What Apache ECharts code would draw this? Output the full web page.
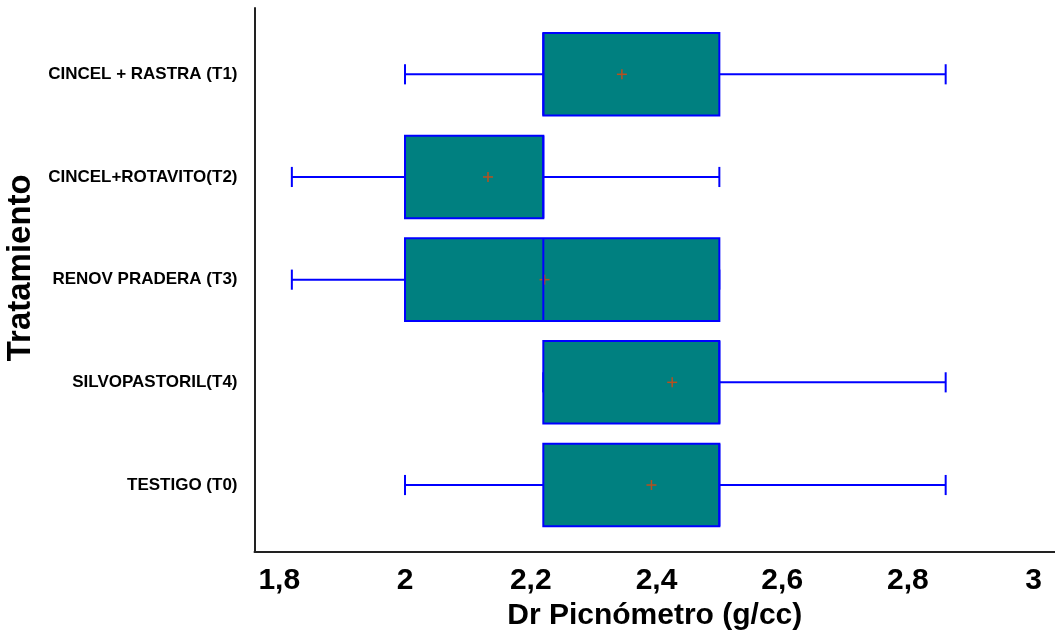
<!DOCTYPE html>
<html>
<head>
<meta charset="utf-8">
<script src="https://cdn.jsdelivr.net/npm/echarts@6/dist/echarts.min.js"></script>
<style>
  html, body { margin: 0; padding: 0; background: #fff; }
  #chart { width: 1055px; height: 635px; }
</style>
</head>
<body>
<div id="chart"></div>
<script>
// Treatments, top to bottom
const categories = [
  'CINCEL + RASTRA (T1)',
  'CINCEL+ROTAVITO(T2)',
  'RENOV PRADERA (T3)',
  'SILVOPASTORIL(T4)',
  'TESTIGO (T0)'
];
// Five-number summary per treatment (g/cc)
const minValues    = [2.00, 1.82, 1.82, 2.22, 2.00];
const q1Values     = [2.22, 2.00, 2.00, 2.22, 2.22];
const medianValues = [2.22, 2.22, 2.22, 2.50, 2.50];
const q3Values     = [2.50, 2.22, 2.50, 2.50, 2.50];
const maxValues    = [2.86, 2.50, 2.50, 2.86, 2.86];
const meanValues   = [2.345, 2.132, 2.222, 2.425, 2.392];

// Value-axis tick positions and their printed labels
const tickValues = [1.8, 2.0, 2.2, 2.4, 2.6, 2.8, 3.0];
const tickLabels = ['1,8', '2', '2,2', '2,4', '2,6', '2,8', '3'];

const SANS = '"Liberation Sans", Arial, sans-serif';

const rows = categories.map((c, i) => [
  i, minValues[i], q1Values[i], medianValues[i], q3Values[i], maxValues[i], meanValues[i]
]);

function renderBox(params, api) {
  const y = api.value(0);
  const vMin = api.value(1), vQ1 = api.value(2), vMed = api.value(3),
        vQ3 = api.value(4), vMax = api.value(5), vMean = api.value(6);
  const band = api.size([0, 1])[1];
  const half = band * 0.402;
  const cap = band * 0.098;
  const cross = 5;
  const pMin = api.coord([vMin, y]);
  const pQ1 = api.coord([vQ1, y]);
  const pMed = api.coord([vMed, y]);
  const pQ3 = api.coord([vQ3, y]);
  const pMax = api.coord([vMax, y]);
  const pMean = api.coord([vMean, y]);
  const cy = pQ1[1];
  const blue = { stroke: '#0000FF', lineWidth: 2 };
  const children = [
    { type: 'line', shape: { x1: pMin[0], y1: cy, x2: pQ1[0], y2: cy }, style: blue },
    { type: 'line', shape: { x1: pQ3[0], y1: cy, x2: pMax[0], y2: cy }, style: blue },
    { type: 'line', shape: { x1: pMin[0], y1: cy - cap, x2: pMin[0], y2: cy + cap }, style: blue },
    { type: 'line', shape: { x1: pMax[0], y1: cy - cap, x2: pMax[0], y2: cy + cap }, style: blue },
    {
      type: 'rect',
      shape: { x: pQ1[0], y: cy - half, width: pQ3[0] - pQ1[0], height: half * 2 },
      style: { fill: '#008080', stroke: '#0000FF', lineWidth: 2 }
    },
    { type: 'line', shape: { x1: pMean[0] - cross, y1: cy, x2: pMean[0] + cross, y2: cy },
      style: { stroke: '#B8501E', lineWidth: 1.5 } },
    { type: 'line', shape: { x1: pMean[0], y1: cy - cross, x2: pMean[0], y2: cy + cross },
      style: { stroke: '#B8501E', lineWidth: 1.5 } },
    { type: 'line', shape: { x1: pMed[0], y1: cy - half, x2: pMed[0], y2: cy + half }, style: blue }
  ];
  return { type: 'group', children: children };
}

const chart = echarts.init(document.getElementById('chart'), null, { renderer: 'canvas' });
chart.setOption({
  animation: false,
  backgroundColor: '#ffffff',
  grid: {
    left: 254.5, right: 0, top: 8, bottom: 83.5,
    containLabel: false,
    outerBoundsMode: 'none'
  },
  xAxis: {
    type: 'value',
    min: 1.7606,
    max: 3.0339,
    name: 'Dr Picnómetro (g/cc)',
    nameLocation: 'middle',
    nameGap: 46,
    nameTextStyle: { fontFamily: SANS, fontWeight: 'bold', fontSize: 30, color: '#000' },
    axisLine: { show: true, onZero: false, lineStyle: { color: '#222', width: 2 } },
    axisTick: { show: false },
    splitLine: { show: false },
    axisLabel: {
      customValues: tickValues,
      margin: 14,
      fontFamily: SANS, fontWeight: 'bold', fontSize: 30, color: '#000',
      formatter: function (v) {
        const i = tickValues.findIndex(t => Math.abs(t - v) < 1e-9);
        return i >= 0 ? tickLabels[i] : '';
      }
    }
  },
  yAxis: {
    type: 'value',
    inverse: true,
    min: -0.6456,
    max: 4.6475,
    name: 'Tratamiento',
    nameLocation: 'middle',
    nameGap: 212,
    nameRotate: 90,
    nameTextStyle: {
      fontFamily: SANS, fontWeight: 'bold', fontSize: 33, color: '#000',
      padding: [0, 0, 0, 24]
    },
    axisLine: { show: true, onZero: false, lineStyle: { color: '#222', width: 2 } },
    axisTick: { show: false },
    splitLine: { show: false },
    axisLabel: {
      customValues: [0, 1, 2, 3, 4],
      margin: 17,
      fontFamily: SANS, fontWeight: 'bold', fontSize: 17, color: '#000',
      formatter: function (v) { return categories[Math.round(v)] || ''; }
    }
  },
  series: [{
    type: 'custom',
    renderItem: renderBox,
    encode: { x: [1, 2, 3, 4, 5, 6], y: 0 },
    data: rows,
    clip: false
  }]
});
</script>
</body>
</html>
